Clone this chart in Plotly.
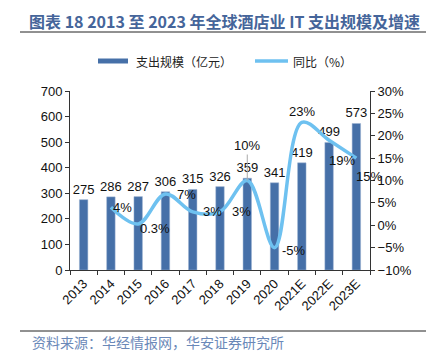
import plotly.graph_objects as go

years = ["2013", "2014", "2015", "2016", "2017", "2018", "2019", "2020", "2021E", "2022E", "2023E"]
spend = [275, 286, 287, 306, 315, 326, 359, 341, 419, 499, 573]
growth = [None, 4, 0.3, 7, 3, 3, 10, -5, 23, 19, 15]
growth_labels = ["", "4%", "0.3%", "7%", "3%", "3%", "10%", "-5%", "23%", "19%", "15%"]

# label offsets (px) for the growth labels
label_dx = [0, 12, 17, 21, 20, 21, 0, 19, 0, 13, 13]
label_dy = [0, 0, -5, -1, 0, 0, 0, -3, 11, -20, -18]

BAR_C = "#4670A8"
LINE_C = "#6EC1F0"
FONT = "Liberation Sans, Arial, sans-serif"
CJK = "Noto Sans CJK SC"

fig = go.Figure()
fig.add_trace(go.Bar(
    x=years, y=spend, marker=dict(color=BAR_C, line=dict(color="#9DB3D3", width=0.5)),
    width=0.31, text=[str(v) for v in spend], textposition="outside", constraintext="none",
    textfont=dict(size=13, color="#111", family=FONT), cliponaxis=False,
    showlegend=False, yaxis="y"))
fig.add_trace(go.Scatter(
    x=years, y=growth, mode="lines", line=dict(color=LINE_C, width=3.5, shape="spline", smoothing=1),
    yaxis="y2", showlegend=False, connectgaps=False))

for i, (g, lab) in enumerate(zip(growth, growth_labels)):
    if g is None:
        continue
    if lab == "10%":
        fig.add_annotation(x=i, y=g, yref="y2", text=lab, showarrow=True, arrowhead=0,
                           arrowwidth=1, arrowcolor="#aaaaaa", ax=0, ay=-35,
                           font=dict(size=13, color="#111", family=FONT))
    else:
        fig.add_annotation(x=i, y=g, yref="y2", text=lab, showarrow=False,
                           xshift=label_dx[i], yshift=label_dy[i],
                           font=dict(size=13, color="#111", family=FONT))

axis_common = dict(showline=True, linecolor="#333", linewidth=1, ticks="outside",
                   ticklen=4, tickcolor="#333", showgrid=False, zeroline=False,
                   tickfont=dict(size=13, color="#111", family=FONT))
fig.update_layout(
    width=426, height=353, paper_bgcolor="white", plot_bgcolor="white",
    margin=dict(l=70, r=56, t=91, b=83),
    xaxis=dict(**axis_common, type="category", tickangle=-45, tickson="boundaries",
               range=[-0.5, len(years) - 0.5]),
    yaxis=dict(**axis_common, range=[0, 700], dtick=100),
    yaxis2=dict(**axis_common, range=[-10, 30], dtick=5, ticksuffix="%", overlaying="y", side="right"),
    uniformtext=dict(mode=False),
)

# title and rules
fig.add_annotation(xref="paper", yref="paper", x=(224 - 70) / 300, y=(270 - 21) / 179,
                   text="<b>图表 18 2013 至 2023 年全球酒店业 IT 支出规模及增速</b>", showarrow=False,
                   font=dict(size=16, color="#45659A", family=CJK), xanchor="center", yanchor="middle")
for yp in [32, 331]:
    fig.add_shape(type="line", xref="paper", yref="paper",
                  x0=(20 - 70) / 300, x1=(426 - 70) / 300,
                  y0=(270 - yp) / 179, y1=(270 - yp) / 179,
                  line=dict(color="#222", width=1))
fig.add_annotation(xref="paper", yref="paper", x=(30 - 70) / 300, y=(270 - 342) / 179,
                   text="资料来源：华经情报网，华安证券研究所", showarrow=False, xanchor="left", yanchor="middle",
                   font=dict(size=14, color="#6A88B8", family=CJK))

# legend
ly = (270 - 61) / 179
fig.add_shape(type="rect", xref="paper", yref="paper", x0=(98 - 70) / 300, x1=(128 - 70) / 300,
              y0=(270 - 63.5) / 179, y1=(270 - 58.5) / 179, fillcolor=BAR_C, line=dict(width=0))
fig.add_annotation(xref="paper", yref="paper", x=(134 - 70) / 300, y=ly, text="支出规模（亿元）",
                   showarrow=False, xanchor="left", yanchor="middle", font=dict(size=12, color="#222", family=CJK))
fig.add_shape(type="line", xref="paper", yref="paper", x0=(255 - 70) / 300, x1=(288 - 70) / 300,
              y0=ly, y1=ly, line=dict(color=LINE_C, width=3.5))
fig.add_annotation(xref="paper", yref="paper", x=(291 - 70) / 300, y=ly, text="同比（%）",
                   showarrow=False, xanchor="left", yanchor="middle", font=dict(size=12, color="#222", family=CJK))

fig.write_html("out.html")
